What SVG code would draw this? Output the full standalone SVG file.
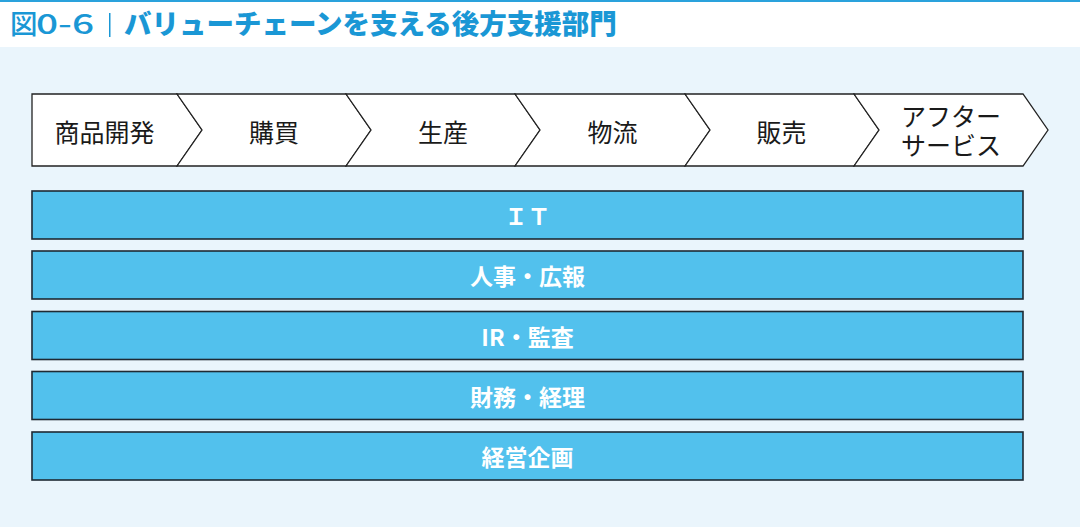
<svg xmlns="http://www.w3.org/2000/svg" width="1080" height="527" viewBox="0 0 1080 527">
<style>
.jp{font-family:"Noto Sans CJK JP","Noto Sans",sans-serif}
.title{font-size:27.5px;font-weight:900;fill:#1a97d5}
.num{font-weight:500}
.chev{fill:#ffffff;stroke:#222222;stroke-width:1.3;stroke-linejoin:miter}
.clabel{font-size:25px;fill:#1a1a1a;text-anchor:middle;dominant-baseline:central}
.bar{fill:#52c1ed;stroke:#1f2a33;stroke-width:1.6}
.blabel{font-size:23px;font-weight:700;fill:#ffffff;text-anchor:middle;dominant-baseline:central}
</style>
<rect x="0" y="0" width="1080" height="527" fill="#eaf5fc"/>
<rect x="0" y="0" width="1080" height="47" fill="#ffffff"/>
<rect x="0" y="0" width="1080" height="2" fill="#2aa2dc"/>
<g id="title">
<text class="jp title num" x="10" y="34">図</text>
<text class="jp title num" x="36" y="34" textLength="58" lengthAdjust="spacingAndGlyphs">0-6</text>
<rect x="109" y="13" width="1.5" height="24" fill="#1a97d5"/>
<text class="jp title" x="124" y="34">バリューチェーンを支える後方支援部門</text>
</g>
<g id="connectors"/>
<g id="chain">
<g id="n-shohin"><polygon class="chev" points="32,94 177,94 202,130 177,166 32,166"/><text class="jp clabel" x="104.5" y="131">商品開発</text></g>
<g id="n-kobai"><polygon class="chev" points="177,94 346,94 371,130 346,166 177,166 202,130"/><text class="jp clabel" x="274" y="131">購買</text></g>
<g id="n-seisan"><polygon class="chev" points="346,94 515,94 540,130 515,166 346,166 371,130"/><text class="jp clabel" x="443" y="131">生産</text></g>
<g id="n-butsuryu"><polygon class="chev" points="515,94 685,94 710,130 685,166 515,166 540,130"/><text class="jp clabel" x="612.5" y="131">物流</text></g>
<g id="n-hanbai"><polygon class="chev" points="685,94 854,94 879,130 854,166 685,166 710,130"/><text class="jp clabel" x="781.5" y="131">販売</text></g>
<g id="n-after"><polygon class="chev" points="854,94 1023,94 1048,130 1023,166 854,166 879,130"/><text class="jp clabel" x="951" y="115"><tspan x="951">アフター</tspan><tspan x="951" dy="29">サービス</tspan></text></g>
</g>
<g id="support">
<g id="n-it"><rect class="bar" x="32" y="191" width="991" height="48"/><text class="jp blabel" x="527.5" y="215">ＩＴ</text></g>
<g id="n-jinji"><rect class="bar" x="32" y="251" width="991" height="48"/><text class="jp blabel" x="527.5" y="275">人事・広報</text></g>
<g id="n-ir"><rect class="bar" x="32" y="311.5" width="991" height="48"/><text class="jp blabel" x="527.5" y="335.5">IR・監査</text></g>
<g id="n-zaimu"><rect class="bar" x="32" y="371.5" width="991" height="48"/><text class="jp blabel" x="527.5" y="395.5">財務・経理</text></g>
<g id="n-keiei"><rect class="bar" x="32" y="432" width="991" height="48"/><text class="jp blabel" x="527.5" y="456">経営企画</text></g>
</g>
</svg>
